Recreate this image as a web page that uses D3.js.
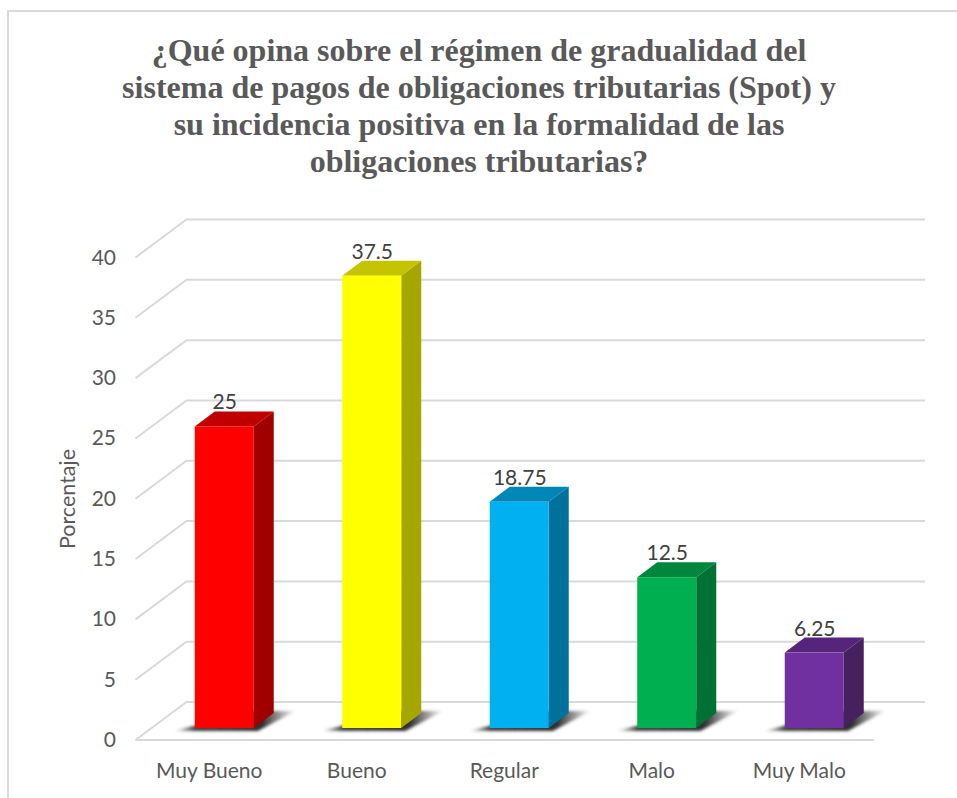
<!DOCTYPE html>
<html lang="en">
<head>
<meta charset="UTF-8">
<title>Porcentaje</title>
<script src="https://d3js.org/d3.v7.min.js"></script>
<style>
    html, body { margin: 0; padding: 0; background: #fff; overflow: hidden; }
    svg { display: block; }
</style>
</head>
<body>
<svg id="chart" width="957" height="798"></svg>
<script>
// chart data
const categories = ["Muy Bueno", "Bueno", "Regular", "Malo", "Muy Malo"];
const values = [25, 37.5, 18.75, 12.5, 6.25];
const valueLabels = ["25", "37.5", "18.75", "12.5", "6.25"];
const yTicks = [0, 5, 10, 15, 20, 25, 30, 35, 40];
const frontColors = ["#ff0000", "#ffff00", "#00b0f0", "#00b050", "#7030a0"];
const topColors = ["#c00000", "#c4c400", "#0087b8", "#00873d", "#56257b"];
const sideColors = ["#a00000", "#a6a600", "#00719b", "#007033", "#47205f"];
const titleLines = [
    "¿Qué opina sobre el régimen de gradualidad del",
    "sistema de pagos de obligaciones tributarias (Spot) y",
    "su incidencia positiva en la formalidad de las",
    "obligaciones tributarias?"
];

const svg = d3.select("#chart");

// the floor is a parallelogram, back wall sits up and to the right of the front edge
const wallDx = 51, wallDy = -38;
const barDx = 20, barDy = -15;
const barLift = 12, barShift = 15;

const x = d3.scaleBand().domain(categories).range([135.5, 873]).paddingInner(0.6).paddingOuter(0.3);
const y = d3.scaleLinear().domain([0, 40]).range([740, 257.5]);

const defs = svg.append("defs");
defs.append("filter").attr("id", "blur")
    .attr("x", "-30%").attr("y", "-60%").attr("width", "160%").attr("height", "220%")
    .append("feGaussianBlur").attr("stdDeviation", 1.8);

// shadow fades out towards both ends
const fade = defs.append("linearGradient").attr("id", "fade");
fade.selectAll("stop")
    .data([[0, 0], [0.17, 0.9], [0.72, 1], [1, 0]])
    .enter()
    .append("stop")
    .attr("offset", d => d[0])
    .attr("stop-color", "#2e2e2e")
    .attr("stop-opacity", d => d[1]);

// chart border, only left and top show
svg.append("path")
    .attr("d", "M8,798V11H957")
    .attr("fill", "none")
    .attr("stroke", "#d9d9d9")
    .attr("stroke-width", 2);

// title
svg.append("g").selectAll("text")
    .data(titleLines)
    .enter()
    .append("text")
    .attr("x", 479)
    .attr("y", (d, i) => 61 + i * 37)
    .attr("text-anchor", "middle")
    .attr("font-family", "'Liberation Serif'")
    .attr("font-weight", "bold")
    .attr("font-size", 32)
    .attr("fill", "#595959")
    .text(d => d);

// grid: side wall diagonal + back wall line
const grid = svg.append("g")
    .attr("fill", "none")
    .attr("stroke", "#d9d9d9")
    .attr("stroke-width", 2);

grid.selectAll("path")
    .data(yTicks)
    .enter()
    .append("path")
    .attr("d", d => {
        const line = d3.path();
        line.moveTo(x.range()[0], y(d));
        line.lineTo(x.range()[0] + wallDx, y(d) + wallDy);
        line.lineTo(925, y(d) + wallDy);
        return line.toString();
    });

// front edge of the floor
svg.append("line")
    .attr("x1", x.range()[0]).attr("x2", 874)
    .attr("y1", y(0)).attr("y2", y(0))
    .attr("stroke", "#d9d9d9")
    .attr("stroke-width", 2);

// y axis labels
svg.append("g").selectAll("text")
    .data(yTicks)
    .enter()
    .append("text")
    .attr("x", 116)
    .attr("y", d => y(d) + 7)
    .attr("text-anchor", "end")
    .attr("font-family", "Lato")
    .attr("font-size", 21)
    .attr("fill", "#595959")
    .text(d => d);

svg.append("text")
    .attr("transform", "translate(75,499) rotate(-90)")
    .attr("text-anchor", "middle")
    .attr("font-family", "Lato")
    .attr("font-size", 21.5)
    .attr("fill", "#595959")
    .text("Porcentaje");

// x axis labels
svg.append("g").selectAll("text")
    .data(categories)
    .enter()
    .append("text")
    .attr("x", d => x(d) + x.bandwidth() / 2)
    .attr("y", 778)
    .attr("text-anchor", "middle")
    .attr("font-family", "Lato")
    .attr("font-size", 21)
    .attr("fill", "#595959")
    .text(d => d);

// bars
const bars = svg.append("g").selectAll("g")
    .data(categories)
    .enter()
    .append("g")
    .attr("transform", d => `translate(${x(d) + barShift},${-barLift})`);

const w = x.bandwidth();
const barH = (d, i) => y(0) - y(values[i]);

// shadow on the floor
bars.append("path")
    .attr("d", `M-21,${y(0) + 3}L${w + 4},${y(0) + 3}L${w + 42},${y(0) - 17}L${w - 2},${y(0) - 17}Z`)
    .attr("fill", "url(#fade)")
    .attr("filter", "url(#blur)");

// top face
bars.append("path")
    .attr("d", (d, i) => {
        const t = y(values[i]);
        return `M0,${t}L${barDx},${t + barDy}H${w + barDx}L${w},${t}Z`;
    })
    .attr("fill", (d, i) => topColors[i]);

// side face
bars.append("path")
    .attr("d", (d, i) => {
        const t = y(values[i]);
        return `M${w},${t}L${w + barDx},${t + barDy}V${y(0) + barDy}L${w},${y(0)}Z`;
    })
    .attr("fill", (d, i) => sideColors[i]);

// front face
bars.append("rect")
    .attr("x", 0)
    .attr("y", (d, i) => y(values[i]))
    .attr("width", w)
    .attr("height", barH)
    .attr("fill", (d, i) => frontColors[i]);

// value labels
bars.append("text")
    .attr("x", w / 2 + 0.5)
    .attr("y", (d, i) => y(values[i]) + barDy - 2)
    .attr("text-anchor", "middle")
    .attr("font-family", "Lato")
    .attr("font-size", 21)
    .attr("fill", "#404040")
    .text((d, i) => valueLabels[i]);
</script>
</body>
</html>
